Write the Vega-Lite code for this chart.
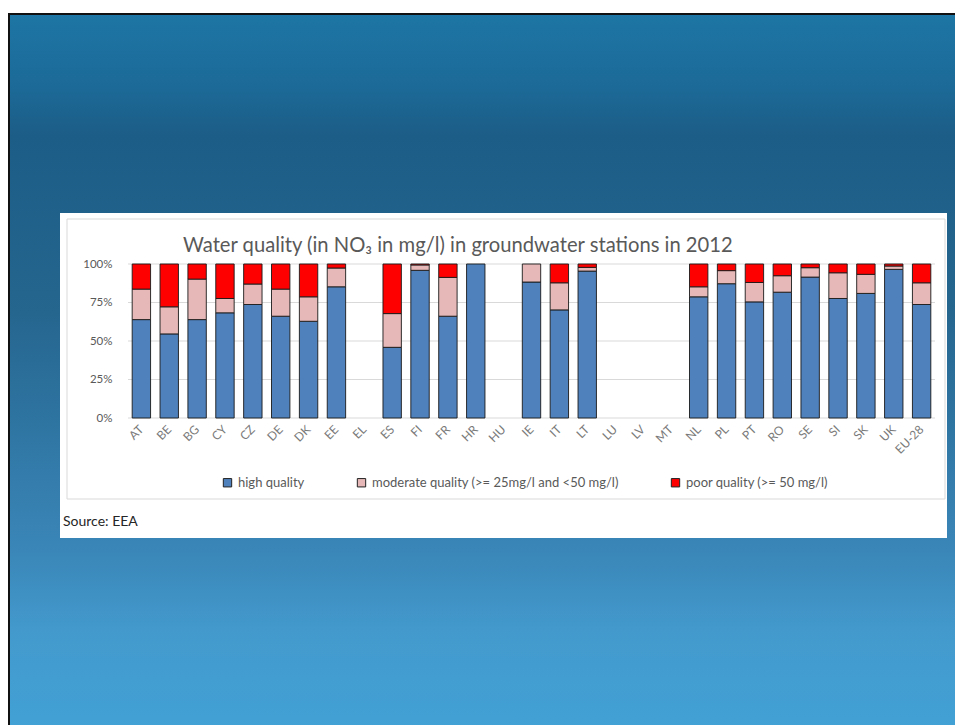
{
  "$schema": "https://vega.github.io/schema/vega-lite/v6.json",
  "width": 807,
  "height": 154,
  "autosize": {"type": "none"},
  "padding": {"left": 128, "top": 264, "right": 20, "bottom": 307},
  "background": "#ffffff",
  "title": {
    "text": "Water quality (in NO₃ in mg/l) in groundwater stations in 2012",
    "anchor": "start",
    "frame": "group",
    "dx": 55,
    "dy": 251,
    "offset": 8,
    "font": "Lato",
    "fontSize": 20.2,
    "fontWeight": "normal",
    "color": "#595959"
  },
  "config": {
    "view": {"stroke": null},
    "font": "Lato"
  },
  "layer": [
    {
      "description": "slide backdrop",
      "data": {"values": [{}]},
      "mark": {
        "type": "rect",
        "stroke": "#111111",
        "strokeWidth": 2,
        "fill": {
          "gradient": "linear",
          "x1": 0, "y1": 0, "x2": 0, "y2": 1,
          "stops": [
            {"offset": 0, "color": "#1d76a5"},
            {"offset": 0.1, "color": "#1c6a98"},
            {"offset": 0.17, "color": "#1c5d87"},
            {"offset": 0.42, "color": "#25668f"},
            {"offset": 0.75, "color": "#3a86b8"},
            {"offset": 0.86, "color": "#4399cc"},
            {"offset": 1, "color": "#42a1d5"}
          ]
        }
      },
      "encoding": {
        "x": {"value": -119},
        "x2": {"value": 830},
        "y": {"value": -250},
        "y2": {"value": 465}
      }
    },
    {
      "description": "white panel holding the chart",
      "data": {"values": [{}]},
      "mark": {"type": "rect", "fill": "#ffffff"},
      "encoding": {
        "x": {"value": -68},
        "x2": {"value": 819},
        "y": {"value": -51},
        "y2": {"value": 274}
      }
    },
    {
      "description": "chart area frame",
      "data": {"values": [{}]},
      "mark": {"type": "rect", "fill": null, "stroke": "#d9d9d9", "strokeWidth": 1},
      "encoding": {
        "x": {"value": -61},
        "x2": {"value": 817},
        "y": {"value": -45},
        "y2": {"value": 235}
      }
    },
    {
      "description": "horizontal gridlines",
      "data": {"values": [{"pct": 0}, {"pct": 25}, {"pct": 50}, {"pct": 75}, {"pct": 100}]},
      "mark": {"type": "rule", "stroke": "#d9d9d9", "strokeWidth": 1},
      "encoding": {
        "y": {
          "field": "pct",
          "type": "quantitative",
          "title": null,
          "scale": {"domain": [0, 100]},
          "axis": {
            "zindex": 1,
            "values": [0, 25, 50, 75, 100],
            "labelExpr": "datum.value + '%'",
            "labelOverlap": false,
            "labelPadding": 16,
            "labelFontSize": 11.5,
            "labelColor": "#595959",
            "labelFont": "Lato",
            "ticks": false,
            "domain": false,
            "grid": false
          }
        }
      }
    },
    {
      "data": {
        "values": [
          {"country": "AT", "quality": "high quality", "rank": 1, "pct": 63.9},
          {"country": "AT", "quality": "moderate quality (>= 25mg/l and <50 mg/l)", "rank": 2, "pct": 19.8},
          {"country": "AT", "quality": "poor quality (>= 50 mg/l)", "rank": 3, "pct": 16.3},
          {"country": "BE", "quality": "high quality", "rank": 1, "pct": 54.6},
          {"country": "BE", "quality": "moderate quality (>= 25mg/l and <50 mg/l)", "rank": 2, "pct": 17.6},
          {"country": "BE", "quality": "poor quality (>= 50 mg/l)", "rank": 3, "pct": 27.8},
          {"country": "BG", "quality": "high quality", "rank": 1, "pct": 63.9},
          {"country": "BG", "quality": "moderate quality (>= 25mg/l and <50 mg/l)", "rank": 2, "pct": 26.3},
          {"country": "BG", "quality": "poor quality (>= 50 mg/l)", "rank": 3, "pct": 9.8},
          {"country": "CY", "quality": "high quality", "rank": 1, "pct": 68.3},
          {"country": "CY", "quality": "moderate quality (>= 25mg/l and <50 mg/l)", "rank": 2, "pct": 9.3},
          {"country": "CY", "quality": "poor quality (>= 50 mg/l)", "rank": 3, "pct": 22.4},
          {"country": "CZ", "quality": "high quality", "rank": 1, "pct": 73.7},
          {"country": "CZ", "quality": "moderate quality (>= 25mg/l and <50 mg/l)", "rank": 2, "pct": 13.3},
          {"country": "CZ", "quality": "poor quality (>= 50 mg/l)", "rank": 3, "pct": 13.0},
          {"country": "DE", "quality": "high quality", "rank": 1, "pct": 66.1},
          {"country": "DE", "quality": "moderate quality (>= 25mg/l and <50 mg/l)", "rank": 2, "pct": 17.6},
          {"country": "DE", "quality": "poor quality (>= 50 mg/l)", "rank": 3, "pct": 16.3},
          {"country": "DK", "quality": "high quality", "rank": 1, "pct": 62.8},
          {"country": "DK", "quality": "moderate quality (>= 25mg/l and <50 mg/l)", "rank": 2, "pct": 15.9},
          {"country": "DK", "quality": "poor quality (>= 50 mg/l)", "rank": 3, "pct": 21.3},
          {"country": "EE", "quality": "high quality", "rank": 1, "pct": 85.2},
          {"country": "EE", "quality": "moderate quality (>= 25mg/l and <50 mg/l)", "rank": 2, "pct": 12.2},
          {"country": "EE", "quality": "poor quality (>= 50 mg/l)", "rank": 3, "pct": 2.6},
          {"country": "ES", "quality": "high quality", "rank": 1, "pct": 45.9},
          {"country": "ES", "quality": "moderate quality (>= 25mg/l and <50 mg/l)", "rank": 2, "pct": 21.9},
          {"country": "ES", "quality": "poor quality (>= 50 mg/l)", "rank": 3, "pct": 32.2},
          {"country": "FI", "quality": "high quality", "rank": 1, "pct": 95.9},
          {"country": "FI", "quality": "moderate quality (>= 25mg/l and <50 mg/l)", "rank": 2, "pct": 3.5},
          {"country": "FI", "quality": "poor quality (>= 50 mg/l)", "rank": 3, "pct": 0.6},
          {"country": "FR", "quality": "high quality", "rank": 1, "pct": 66.1},
          {"country": "FR", "quality": "moderate quality (>= 25mg/l and <50 mg/l)", "rank": 2, "pct": 25.2},
          {"country": "FR", "quality": "poor quality (>= 50 mg/l)", "rank": 3, "pct": 8.7},
          {"country": "HR", "quality": "high quality", "rank": 1, "pct": 100},
          {"country": "IE", "quality": "high quality", "rank": 1, "pct": 88.3},
          {"country": "IE", "quality": "moderate quality (>= 25mg/l and <50 mg/l)", "rank": 2, "pct": 11.7},
          {"country": "IT", "quality": "high quality", "rank": 1, "pct": 70.2},
          {"country": "IT", "quality": "moderate quality (>= 25mg/l and <50 mg/l)", "rank": 2, "pct": 17.6},
          {"country": "IT", "quality": "poor quality (>= 50 mg/l)", "rank": 3, "pct": 12.2},
          {"country": "LT", "quality": "high quality", "rank": 1, "pct": 95.4},
          {"country": "LT", "quality": "moderate quality (>= 25mg/l and <50 mg/l)", "rank": 2, "pct": 2.4},
          {"country": "LT", "quality": "poor quality (>= 50 mg/l)", "rank": 3, "pct": 2.2},
          {"country": "NL", "quality": "high quality", "rank": 1, "pct": 78.7},
          {"country": "NL", "quality": "moderate quality (>= 25mg/l and <50 mg/l)", "rank": 2, "pct": 6.5},
          {"country": "NL", "quality": "poor quality (>= 50 mg/l)", "rank": 3, "pct": 14.8},
          {"country": "PL", "quality": "high quality", "rank": 1, "pct": 87.2},
          {"country": "PL", "quality": "moderate quality (>= 25mg/l and <50 mg/l)", "rank": 2, "pct": 8.5},
          {"country": "PL", "quality": "poor quality (>= 50 mg/l)", "rank": 3, "pct": 4.3},
          {"country": "PT", "quality": "high quality", "rank": 1, "pct": 75.4},
          {"country": "PT", "quality": "moderate quality (>= 25mg/l and <50 mg/l)", "rank": 2, "pct": 12.6},
          {"country": "PT", "quality": "poor quality (>= 50 mg/l)", "rank": 3, "pct": 12.0},
          {"country": "RO", "quality": "high quality", "rank": 1, "pct": 81.7},
          {"country": "RO", "quality": "moderate quality (>= 25mg/l and <50 mg/l)", "rank": 2, "pct": 10.7},
          {"country": "RO", "quality": "poor quality (>= 50 mg/l)", "rank": 3, "pct": 7.6},
          {"country": "SE", "quality": "high quality", "rank": 1, "pct": 91.5},
          {"country": "SE", "quality": "moderate quality (>= 25mg/l and <50 mg/l)", "rank": 2, "pct": 6.1},
          {"country": "SE", "quality": "poor quality (>= 50 mg/l)", "rank": 3, "pct": 2.4},
          {"country": "SI", "quality": "high quality", "rank": 1, "pct": 77.6},
          {"country": "SI", "quality": "moderate quality (>= 25mg/l and <50 mg/l)", "rank": 2, "pct": 16.7},
          {"country": "SI", "quality": "poor quality (>= 50 mg/l)", "rank": 3, "pct": 5.7},
          {"country": "SK", "quality": "high quality", "rank": 1, "pct": 80.9},
          {"country": "SK", "quality": "moderate quality (>= 25mg/l and <50 mg/l)", "rank": 2, "pct": 12.4},
          {"country": "SK", "quality": "poor quality (>= 50 mg/l)", "rank": 3, "pct": 6.7},
          {"country": "UK", "quality": "high quality", "rank": 1, "pct": 96.5},
          {"country": "UK", "quality": "moderate quality (>= 25mg/l and <50 mg/l)", "rank": 2, "pct": 2.2},
          {"country": "UK", "quality": "poor quality (>= 50 mg/l)", "rank": 3, "pct": 1.3},
          {"country": "EU-28", "quality": "high quality", "rank": 1, "pct": 73.7},
          {"country": "EU-28", "quality": "moderate quality (>= 25mg/l and <50 mg/l)", "rank": 2, "pct": 14.1},
          {"country": "EU-28", "quality": "poor quality (>= 50 mg/l)", "rank": 3, "pct": 12.2}
        ]
      },
      "mark": {"type": "bar", "stroke": "#1a1a1a", "strokeWidth": 0.9},
      "encoding": {
        "x": {
          "field": "country",
          "type": "nominal",
          "title": null,
          "scale": {
            "domain": ["AT", "BE", "BG", "CY", "CZ", "DE", "DK", "EE", "EL", "ES", "FI", "FR", "HR", "HU", "IE", "IT", "LT", "LU", "LV", "MT", "NL", "PL", "PT", "RO", "SE", "SI", "SK", "UK", "EU-28"],
            "paddingInner": 0.34,
            "paddingOuter": 0.15
          },
          "axis": {
            "zindex": 1,
            "labelAngle": -45,
            "labelAlign": "right",
            "labelBaseline": "middle",
            "labelPadding": 9,
            "labelFontSize": 12,
            "labelColor": "#7a7a7a",
            "labelFont": "Lato",
            "labelOverlap": false,
            "ticks": false,
            "domain": false,
            "grid": false
          }
        },
        "y": {
          "field": "pct",
          "type": "quantitative",
          "stack": "zero",
          "title": null,
          "scale": {"domain": [0, 100]},
          "axis": {
            "zindex": 1,
            "values": [0, 25, 50, 75, 100],
            "labelExpr": "datum.value + '%'",
            "labelOverlap": false,
            "labelPadding": 16,
            "labelFontSize": 11.5,
            "labelColor": "#595959",
            "labelFont": "Lato",
            "ticks": false,
            "domain": false,
            "grid": false
          }
        },
        "color": {
          "field": "quality",
          "type": "nominal",
          "scale": {
            "domain": ["high quality", "moderate quality (>= 25mg/l and <50 mg/l)", "poor quality (>= 50 mg/l)"],
            "range": ["#4f81bd", "#e6b9b8", "#ff0000"]
          },
          "legend": {
            "title": null,
            "orient": "none",
            "direction": "horizontal",
            "legendX": 93,
            "legendY": 212,
            "symbolType": "square",
            "symbolSize": 70,
            "symbolStrokeColor": "#222222",
            "symbolStrokeWidth": 1,
            "columnPadding": 50,
            "labelFontSize": 13,
            "labelLimit": 400,
            "labelColor": "#595959",
            "labelFont": "Lato",
            "labelOffset": 4,
            "zindex": 1
          }
        },
        "order": {"field": "rank", "type": "quantitative", "sort": "ascending"}
      }
    },
    {
      "description": "source note under the chart",
      "data": {"values": [{"note": "Source: EEA"}]},
      "mark": {"type": "text", "align": "left", "baseline": "alphabetic", "font": "Lato", "fontSize": 14, "color": "#262626"},
      "encoding": {
        "text": {"field": "note"},
        "x": {"value": -65},
        "y": {"value": 262}
      }
    }
  ]
}
